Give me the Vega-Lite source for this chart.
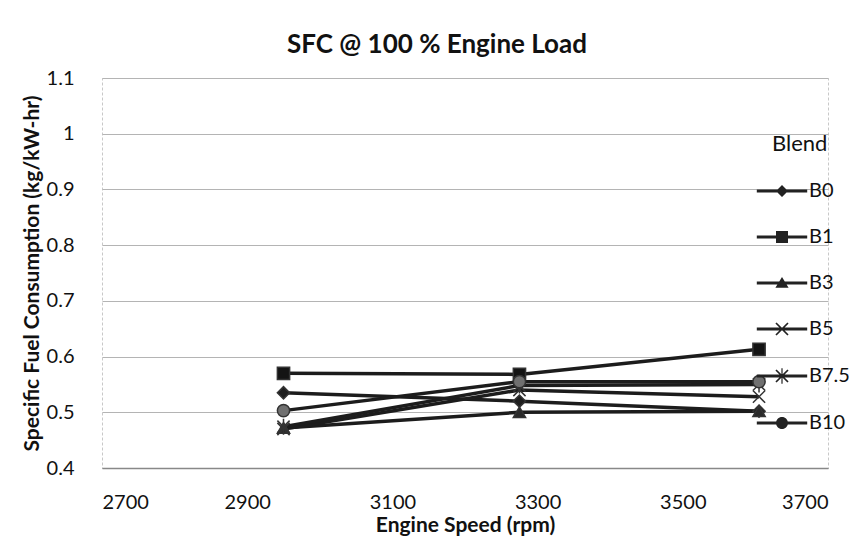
{
  "$schema": "https://vega.github.io/schema/vega-lite/v6.json",
  "autosize": "none",
  "width": 726,
  "height": 390,
  "padding": {"left": 102, "top": 78, "right": 40, "bottom": 82},
  "background": "white",
  "title": {
    "text": "SFC @ 100 % Engine Load",
    "font": "Lato",
    "fontSize": 26,
    "fontWeight": "bold",
    "color": "#111",
    "anchor": "middle",
    "dx": -28,
    "offset": 10
  },
  "config": {
    "font": "Lato",
    "view": {"stroke": "#c8c8c8", "strokeDash": [3, 2], "strokeWidth": 1},
    "axis": {
      "labelFont": "Lato",
      "labelFontSize": 20,
      "labelColor": "#111",
      "titleFont": "Lato",
      "titleFontSize": 21,
      "titleFontWeight": "bold",
      "titleColor": "#111",
      "ticks": false
    }
  },
  "data": {
    "values": [
      {"Blend": "B0", "speed": 2950, "sfc": 0.535},
      {"Blend": "B0", "speed": 3275, "sfc": 0.52},
      {"Blend": "B0", "speed": 3605, "sfc": 0.502},
      {"Blend": "B1", "speed": 2950, "sfc": 0.57},
      {"Blend": "B1", "speed": 3275, "sfc": 0.568},
      {"Blend": "B1", "speed": 3605, "sfc": 0.613},
      {"Blend": "B3", "speed": 2950, "sfc": 0.472},
      {"Blend": "B3", "speed": 3275, "sfc": 0.5},
      {"Blend": "B3", "speed": 3605, "sfc": 0.502},
      {"Blend": "B5", "speed": 2950, "sfc": 0.47},
      {"Blend": "B5", "speed": 3275, "sfc": 0.54},
      {"Blend": "B5", "speed": 3605, "sfc": 0.528},
      {"Blend": "B7.5", "speed": 2950, "sfc": 0.474},
      {"Blend": "B7.5", "speed": 3275, "sfc": 0.548},
      {"Blend": "B7.5", "speed": 3605, "sfc": 0.55},
      {"Blend": "B10", "speed": 2950, "sfc": 0.503},
      {"Blend": "B10", "speed": 3275, "sfc": 0.555},
      {"Blend": "B10", "speed": 3605, "sfc": 0.555}
    ]
  },
  "encoding": {
    "x": {
      "field": "speed",
      "type": "quantitative",
      "scale": {"domain": [2700, 3700], "nice": false, "zero": false},
      "axis": {
        "title": "Engine Speed (rpm)",
        "values": [2700, 2900, 3100, 3300, 3500, 3700],
        "format": "d",
        "grid": false,
        "domainColor": "#888",
        "domainWidth": 1.5,
        "labelPadding": 24,
        "titlePadding": 2
      }
    },
    "y": {
      "field": "sfc",
      "type": "quantitative",
      "scale": {"domain": [0.4, 1.1], "nice": false, "zero": false},
      "axis": {
        "title": "Specific Fuel Consumption (kg/kW-hr)",
        "values": [0.4, 0.5, 0.6, 0.7, 0.8, 0.9, 1, 1.1],
        "format": "~g",
        "grid": true,
        "gridColor": "#b4b4b4",
        "gridWidth": 1,
        "domain": false,
        "labelPadding": 28,
        "titlePadding": 4
      }
    }
  },
  "layer": [
    {
      "mark": {"type": "line", "strokeWidth": 3.5, "color": "#1c1c1c"},
      "encoding": {"detail": {"field": "Blend"}}
    },
    {
      "mark": {"type": "point", "filled": true, "size": 150, "opacity": 1, "stroke": "#333", "strokeWidth": 1.5},
      "encoding": {
        "shape": {
          "field": "Blend",
          "scale": {
            "domain": ["B0", "B1", "B3", "B5", "B7.5", "B10"],
            "range": ["diamond", "square", "triangle-up", "M-1,-1L1,1M1,-1L-1,1", "M-1,-1L1,1M1,-1L-1,1M0,-1.3V1.3", "circle"]
          },
          "legend": null
        },
        "color": {
          "field": "Blend",
          "scale": {
            "domain": ["B0", "B1", "B3", "B5", "B7.5", "B10"],
            "range": ["#1e1e1e", "#141414", "#2a2a2a", "#555555", "#888888", "#707070"]
          },
          "legend": null
        }
      }
    },
    {
      "transform": [{"filter": "datum.speed < 0"}],
      "mark": {"type": "point", "filled": true, "fill": "#222", "opacity": 1},
      "encoding": {
        "shape": {
          "field": "Blend",
          "scale": {
            "domain": ["B0", "B1", "B3", "B5", "B7.5", "B10"],
            "range": [
              "M-4.2,-0.25H4.2V0.25H-4.2ZM0,-1L1,0L0,1L-1,0Z",
              "M-4.2,-0.25H4.2V0.25H-4.2ZM-1,-1H1V1H-1Z",
              "M-4.2,-0.25H4.2V0.25H-4.2ZM0,-1L1.1,0.8H-1.1Z",
              "M-4.2,-0.25H4.2V0.25H-4.2ZM-1.1,-0.9L-0.9,-1.1L1.1,0.9L0.9,1.1ZM0.9,-1.1L1.1,-0.9L-0.9,1.1L-1.1,0.9Z",
              "M-4.2,-0.25H4.2V0.25H-4.2ZM-1.1,-0.9L-0.9,-1.1L1.1,0.9L0.9,1.1ZM0.9,-1.1L1.1,-0.9L-0.9,1.1L-1.1,0.9ZM-0.1,-1.3H0.1V1.3H-0.1Z",
              "M-4.2,-0.25H4.2V0.25H-4.2ZM1,0A1,1,0,1,1,-1,0A1,1,0,1,1,1,0Z"
            ]
          },
          "legend": {
            "title": "Blend",
            "orient": "none",
            "legendX": 670,
            "legendY": 56,
            "titleFont": "Lato",
            "titleFontSize": 22,
            "titleFontWeight": "normal",
            "titleColor": "#111",
            "titlePadding": 25,
            "labelFont": "Lato",
            "labelFontSize": 20,
            "labelColor": "#111",
            "labelOffset": 17,
            "symbolSize": 144,
            "rowPadding": 26
          }
        }
      }
    }
  ],
  "resolve": {"scale": {"shape": "independent"}}
}
